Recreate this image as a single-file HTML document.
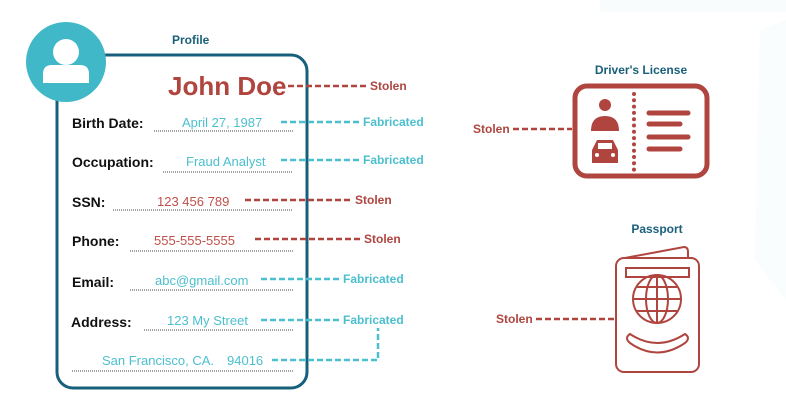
<!DOCTYPE html>
<html><head><meta charset="utf-8"><style>
html,body{margin:0;padding:0;background:#fff;}
svg{display:block;font-family:"Liberation Sans",sans-serif;}
.lb{font-weight:bold;font-size:14px;fill:#111;}
.vr{font-size:13px;fill:#c0504a;}
.vb{font-size:13px;fill:#4bbfcf;}
.sr{font-weight:bold;font-size:12px;fill:#b0453f;}
.sb{font-weight:bold;font-size:12px;fill:#4bbfcf;}
.dr{stroke:#b0453f;stroke-width:2.5;stroke-dasharray:6,3;fill:none;}
.db{stroke:#4bbfcf;stroke-width:2.5;stroke-dasharray:6,3;fill:none;}
.ul{stroke:#444;stroke-width:1;stroke-dasharray:1,1;}
</style></head><body>
<svg width="786" height="420" viewBox="0 0 786 420">
<polygon points="600,0 786,0 786,12 600,12" fill="#f8fcfd"/>
<polygon points="760,30 786,20 786,300 755,260" fill="#f9fdfd"/>
<rect x="57" y="55" width="250" height="333" rx="16" fill="none" stroke="#17607c" stroke-width="3"/>
<circle cx="66" cy="62" r="40" fill="#40b8c8"/>
<circle cx="66" cy="52" r="13" fill="#fff"/>
<path d="M43,83 L43,74 Q43,65 52,65 L80,65 Q89,65 89,74 L89,83 Z" fill="#fff"/>
<text x="172" y="44" font-size="12" font-weight="bold" fill="#1a5f7a">Profile</text>
<text x="168" y="95" font-size="26" font-weight="bold" fill="#b0453f">John Doe</text>
<line class="dr" x1="288" y1="86" x2="368" y2="86"/><text class="sr" x="370" y="90">Stolen</text>

<text class="lb" x="72" y="128">Birth Date:</text><text class="vb" x="182" y="127">April 27, 1987</text>
<line class="ul" x1="154" y1="131" x2="293" y2="131"/>
<line class="db" x1="281" y1="122" x2="362" y2="122"/><text class="sb" x="363" y="126">Fabricated</text>

<text class="lb" x="72" y="167">Occupation:</text><text class="vb" x="186" y="166">Fraud Analyst</text>
<line class="ul" x1="163" y1="172" x2="293" y2="172"/>
<line class="db" x1="281" y1="160" x2="362" y2="160"/><text class="sb" x="363" y="164">Fabricated</text>

<text class="lb" x="72" y="207">SSN:</text><text class="vr" x="157" y="206">123 456 789</text>
<line class="ul" x1="113" y1="210" x2="293" y2="210"/>
<line class="dr" x1="245" y1="200" x2="353" y2="200"/><text class="sr" x="355" y="204">Stolen</text>

<text class="lb" x="72" y="246">Phone:</text><text class="vr" x="154" y="245">555-555-5555</text>
<line class="ul" x1="130" y1="251" x2="293" y2="251"/>
<line class="dr" x1="255" y1="239" x2="362" y2="239"/><text class="sr" x="364" y="243">Stolen</text>

<text class="lb" x="72" y="287">Email:</text><text class="vb" x="155" y="285">abc@gmail.com</text>
<line class="ul" x1="130" y1="290" x2="293" y2="290"/>
<line class="db" x1="261" y1="279" x2="342" y2="279"/><text class="sb" x="343" y="283">Fabricated</text>

<text class="lb" x="71" y="327">Address:</text><text class="vb" x="167" y="325">123 My Street</text>
<line class="ul" x1="144" y1="330" x2="293" y2="330"/>
<line class="db" x1="261" y1="320" x2="342" y2="320"/><text class="sb" x="343" y="324">Fabricated</text>

<text class="vb" x="102" y="365">San Francisco, CA.</text><text class="vb" x="227" y="365">94016</text>
<line class="ul" x1="72" y1="371" x2="293" y2="371"/>
<polyline class="db" points="272,360 378,360 378,328"/>

<text x="641" y="74" font-size="12" font-weight="bold" fill="#1a5f7a" text-anchor="middle">Driver's License</text>
<rect x="575" y="86" width="132" height="90" rx="12" fill="none" stroke="#b0453f" stroke-width="5"/>
<circle cx="605" cy="105" r="6" fill="#b0453f"/>
<path d="M591,131 Q591,116 605,116 Q619,116 619,131 Z" fill="#b0453f"/>
<path d="M592,163 L592,150 L597,140 L613,140 L618,150 L618,163 Z" fill="#b0453f"/>
<rect x="598" y="143" width="14" height="6" fill="#fff"/>
<circle cx="597" cy="155" r="2" fill="#fff"/><circle cx="613" cy="155" r="2" fill="#fff"/>
<line x1="634" y1="94" x2="634" y2="170" stroke="#b0453f" stroke-width="4" stroke-linecap="round" stroke-dasharray="0,6.3"/>
<g stroke="#b0453f" stroke-width="5" stroke-linecap="round">
<line x1="649" y1="113" x2="688" y2="113"/><line x1="649" y1="124" x2="680" y2="124"/>
<line x1="649" y1="137" x2="688" y2="137"/><line x1="649" y1="149" x2="680" y2="149"/></g>
<text class="sr" x="473" y="133">Stolen</text><line class="dr" x1="513" y1="129" x2="572" y2="129"/>

<text x="657" y="233" font-size="12" font-weight="bold" fill="#1a5f7a" text-anchor="middle">Passport</text>
<g fill="none" stroke="#b0453f" stroke-width="2">
<path d="M625,258 L684,247 Q688,247 688,252 L688,258"/>
<rect x="616" y="258" width="83" height="114" rx="8"/>
<rect x="626" y="268" width="63" height="9"/>
<circle cx="657" cy="299" r="24"/><ellipse cx="657" cy="299" rx="11" ry="24"/>
<line x1="657" y1="275" x2="657" y2="323"/><line x1="633" y1="299" x2="681" y2="299"/>
<line x1="637" y1="287" x2="677" y2="287"/><line x1="637" y1="311" x2="677" y2="311"/>
<path d="M630,334 Q624,338 630,343 Q657,362 685,343 Q691,338 685,334 Q657,352 630,334 Z"/>
</g>
<text class="sr" x="496" y="323">Stolen</text><line class="dr" x1="536" y1="319" x2="614" y2="319"/>
</svg>
</body></html>
